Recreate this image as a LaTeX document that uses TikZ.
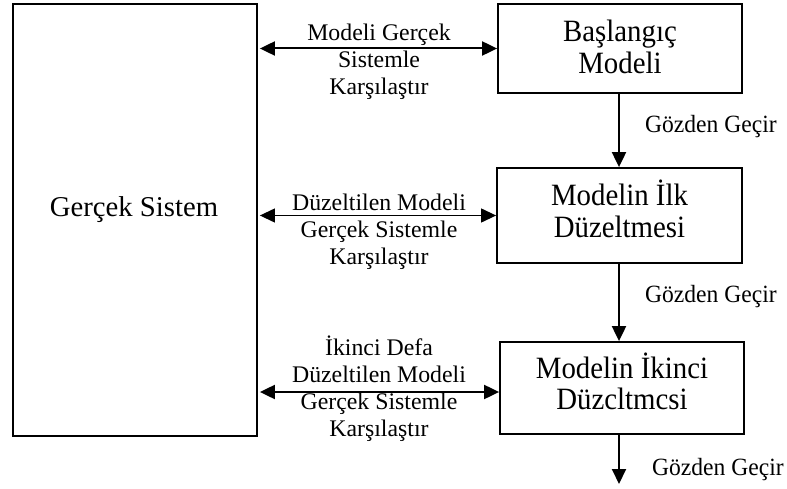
\documentclass[tikz,border=0pt]{standalone}
\usepackage{fontspec}
\setmainfont{Liberation Serif}
\newfontfamily\boxfont[FakeStretch=0.93]{Liberation Serif}
\newfontfamily\revfont[FakeStretch=0.95]{Liberation Serif}
\usetikzlibrary{arrows.meta,calc}
\newcommand{\lowpad}[1]{\rule[-#1]{0pt}{0pt}}
\begin{document}
\begin{tikzpicture}[x=1pt,y=-1pt,
  boxst/.style={draw,line width=1.8pt,inner sep=0pt,align=center,
    font=\boxfont\fontsize{31}{31.5}\selectfont},
  lblst/.style={align=center,inner sep=0pt,font=\fontsize{23.8}{27}\selectfont},
  revst/.style={anchor=west,inner sep=0pt,font=\revfont\fontsize{24.8}{27}\selectfont},
  arr/.style={-{Triangle[length=15pt,width=14pt]},line width=2pt},
  darr/.style={{Triangle[length=15pt,width=14pt]}-{Triangle[length=15pt,width=14pt]},line width=2pt}]
\useasboundingbox (0,0) rectangle (787,489);
% real system
\node[boxst,minimum width=244pt,minimum height=432pt] (big) at (135,220) {};
\node[font=\fontsize{28.7}{30}\selectfont,inner sep=0pt] (bigtxt) at (134,210) {Gerçek Sistem};
% model boxes
\node[boxst,minimum width=244pt,minimum height=89pt] (b1) at (620,48.5) {Başlangıç\\Modeli\lowpad{4pt}};
\node[boxst,minimum width=245pt,minimum height=95pt] (b2) at (619.5,215.5) {Modelin İlk\\Düzeltmesi\lowpad{14pt}};
\node[boxst,minimum width=244pt,minimum height=92pt] (b3) at (622,388) {Modelin İkinci\\Düzcltmcsi\lowpad{14pt}};
\coordinate (endc) at (619,484);
% horizontal double arrows
\draw[darr] (b1.west -| big.east) ++(2,0) coordinate (h1) -- (b1.west);
\draw[darr,line width=1.2pt] (b2.west -| big.east) ++(2,0) coordinate (h2) -- (b2.west);
\draw[darr] ([yshift=-4pt]b3.west -| big.east) ++(2,0) coordinate (h3) -- ([yshift=-4pt]b3.west);
% labels on horizontal arrows
\node[lblst] (l1) at (379,61.5) {Modeli Gerçek\\Sistemle\\Karşılaştır};
\node[lblst] (l2) at (379,231.5) {Düzeltilen Modeli\\Gerçek Sistemle\\Karşılaştır};
\node[lblst] (l3) at (379,389) {İkinci Defa\\Düzeltilen Modeli\\Gerçek Sistemle\\Karşılaştır};
% vertical arrows
\draw[arr] (b1.south -| 619,0) -- (b2.north -| 619,0);
\draw[arr] (b2.south -| 619,0) -- (b3.north -| 619,0);
\draw[arr] (b3.south -| endc) -- (endc);
% review labels
\node[revst] (r1) at (645,127) {Gözden Geçir};
\node[revst] (r2) at (645,297) {Gözden Geçir};
\node[revst] (r3) at (652,470) {Gözden Geçir};
\end{tikzpicture}
\end{document}
